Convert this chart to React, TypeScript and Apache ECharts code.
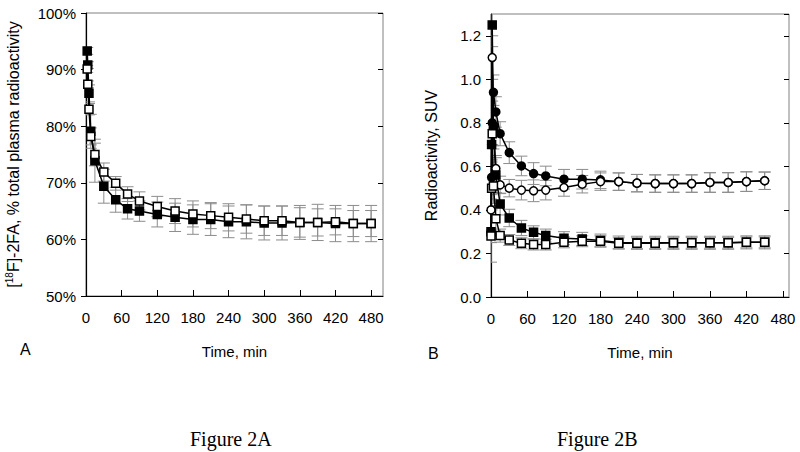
import React, { useEffect, useRef } from "react";
import * as echarts from "echarts";

// ---------- Panel A data ----------
const timeA = [2, 3, 5, 8, 15, 30, 50, 70, 90, 120, 150, 180, 210, 240, 270, 300, 330, 360, 390, 420, 450, 480];
const filledA = [93.3, 90.8, 85.8, 79.1, 73.9, 69.4, 67.0, 65.4, 65.0, 64.4, 63.9, 63.5, 63.5, 63.1, 63.1, 62.9, 62.9, 63.0, 63.0, 62.8, 62.8, 62.8];
const filledAErr = [0.6, 0.6, 1.5, 3.0, 3.8, 3.0, 2.2, 1.8, 1.8, 2.2, 2.5, 2.6, 2.8, 2.8, 3.0, 3.0, 3.0, 3.0, 3.2, 3.2, 3.2, 3.2];
const openA = [90.1, 87.4, 83.0, 78.2, 75.0, 71.9, 69.9, 68.0, 66.8, 65.8, 65.0, 64.5, 64.2, 63.9, 63.6, 63.3, 63.3, 63.0, 63.0, 63.1, 62.8, 62.8];
const openAErr = [0.6, 0.6, 1.0, 1.5, 2.0, 1.6, 1.2, 1.3, 1.6, 1.8, 2.2, 2.3, 2.3, 2.4, 2.5, 2.6, 2.6, 2.6, 2.4, 2.3, 2.3, 2.3];
const xTicksA = [0, 60, 120, 180, 240, 300, 360, 420, 480];
const yTicksA = [50, 60, 70, 80, 90, 100];

// ---------- Panel B data ----------
const timeB = [0, 1, 2, 4, 8, 15, 30, 50, 70, 90, 120, 150, 180, 210, 240, 270, 300, 330, 360, 390, 420, 450];
const filledCircleB = [0.30, 0.55, 0.80, 0.94, 0.85, 0.75, 0.663, 0.602, 0.567, 0.556, 0.541, 0.541, 0.538, 0.530, 0.523, 0.521, 0.521, 0.521, 0.526, 0.526, 0.530, 0.534];
const filledCircleBErr = [0.05, 0.08, 0.1, 0.08, 0.07, 0.055, 0.05, 0.045, 0.05, 0.045, 0.045, 0.045, 0.04, 0.04, 0.04, 0.04, 0.04, 0.04, 0.045, 0.045, 0.045, 0.04];
const openCircleB = [0.40, 0.70, 1.10, 0.775, 0.59, 0.515, 0.50, 0.491, 0.488, 0.491, 0.503, 0.518, 0.530, 0.530, 0.523, 0.521, 0.521, 0.521, 0.526, 0.526, 0.530, 0.534];
const openCircleBErr = [0.05, 0.08, 0.1, 0.08, 0.06, 0.04, 0.04, 0.045, 0.05, 0.045, 0.04, 0.04, 0.04, 0.04, 0.04, 0.04, 0.04, 0.04, 0.045, 0.045, 0.045, 0.04];
const filledSquareB = [0.30, 0.70, 1.25, 0.78, 0.56, 0.427, 0.363, 0.317, 0.297, 0.282, 0.270, 0.267, 0.259, 0.250, 0.249, 0.249, 0.249, 0.249, 0.249, 0.249, 0.251, 0.251];
const filledSquareBErr = [0.05, 0.1, 0.1, 0.1, 0.08, 0.05, 0.04, 0.035, 0.03, 0.03, 0.03, 0.03, 0.03, 0.03, 0.03, 0.03, 0.03, 0.03, 0.03, 0.03, 0.03, 0.03];
const openSquareB = [0.28, 0.50, 0.75, 0.51, 0.36, 0.282, 0.262, 0.247, 0.241, 0.241, 0.251, 0.256, 0.256, 0.247, 0.247, 0.247, 0.249, 0.249, 0.249, 0.249, 0.251, 0.251];
const openSquareBErr = [0.12, 0.1, 0.1, 0.08, 0.06, 0.03, 0.025, 0.025, 0.025, 0.025, 0.025, 0.025, 0.025, 0.025, 0.025, 0.025, 0.025, 0.025, 0.025, 0.025, 0.025, 0.025];
const xTicksB = [0, 60, 120, 180, 240, 300, 360, 420, 480];
const yTicksB = [0.0, 0.2, 0.4, 0.6, 0.8, 1.0, 1.2];

const FONT = "Liberation Sans, Arial, sans-serif";

function zip(t: number[], v: number[]) {
  return t.map((x, i) => [x, v[i]]);
}
function zip3(t: number[], v: number[], e: number[]) {
  return t.map((x, i) => [x, v[i], e[i]]);
}

function errorSeries(xi: number, yi: number, data: number[][]) {
  return {
    type: "custom",
    xAxisIndex: xi,
    yAxisIndex: yi,
    silent: true,
    z: 1,
    clip: true,
    data,
    renderItem: (params: any, api: any) => {
      const x = api.value(0);
      const y = api.value(1);
      const e = api.value(2);
      const top = api.coord([x, y + e]);
      const bot = api.coord([x, y - e]);
      const hw = 6;
      const style = { stroke: "#8c8c8c", lineWidth: 1 };
      return {
        type: "group",
        children: [
          { type: "line", shape: { x1: top[0], y1: top[1], x2: bot[0], y2: bot[1] }, style },
          { type: "line", shape: { x1: top[0] - hw, y1: top[1], x2: top[0] + hw, y2: top[1] }, style },
          { type: "line", shape: { x1: bot[0] - hw, y1: bot[1], x2: bot[0] + hw, y2: bot[1] }, style },
        ],
      };
    },
  };
}

function lineSeries(xi: number, yi: number, data: number[][], symbol: string, filled: boolean) {
  return {
    type: "line",
    xAxisIndex: xi,
    yAxisIndex: yi,
    data,
    z: 3,
    symbol,
    symbolSize: 8,
    showAllSymbol: true,
    lineStyle: { color: "#000", width: 1.5 },
    itemStyle: { color: filled ? "#000" : "#fff", borderColor: "#000", borderWidth: 1.5 },
  };
}

export default function App() {
  const ref = useRef<HTMLDivElement>(null);
  useEffect(() => {
    if (!ref.current) return;
    const chart = echarts.init(ref.current, null, { renderer: "svg" });
    const labelStyle = { color: "#000", fontFamily: FONT, fontSize: 15 };
    const xAxisBase = (gi: number, max: number) => ({
      type: "value",
      gridIndex: gi,
      min: 0,
      max,
      interval: 60,
      name: "Time, min",
      nameLocation: "middle",
      nameGap: 48,
      nameTextStyle: { color: "#000", fontFamily: FONT, fontSize: 15 },
      axisLine: { lineStyle: { color: "#000", width: 1.2 } },
      axisTick: { inside: true, length: 6, lineStyle: { color: "#000" } },
      axisLabel: { ...labelStyle, margin: 14, showMaxLabel: false },
      splitLine: { show: false },
    });
    const option: any = {
      animation: false,
      backgroundColor: "#fff",
      grid: [
        { left: 86, top: 13, width: 297, height: 283, show: true, borderColor: "#808080", borderWidth: 1 },
        { left: 491, top: 14, width: 298, height: 283, show: true, borderColor: "#808080", borderWidth: 1 },
      ],
      xAxis: [xAxisBase(0, 500), xAxisBase(1, 490)],
      yAxis: [
        {
          type: "value",
          gridIndex: 0,
          min: 50,
          max: 100,
          interval: 10,
          name: "[{sup|18}F]-2FA, % total plasma radioactivity",
          nameLocation: "middle",
          nameGap: 64,
          nameTextStyle: {
            color: "#000",
            fontFamily: FONT,
            fontSize: 16,
            rich: { sup: { fontSize: 10, verticalAlign: "top", padding: [0, 0, 8, 0], fontFamily: FONT, color: "#000" } },
          },
          axisLine: { lineStyle: { color: "#000", width: 1.2 } },
          axisTick: { length: 5, lineStyle: { color: "#000" } },
          axisLabel: { ...labelStyle, margin: 10, formatter: "{value}%" },
          splitLine: { show: false },
        },
        {
          type: "value",
          gridIndex: 1,
          min: 0,
          max: 1.3,
          interval: 0.2,
          name: "Radioactivity, SUV",
          nameLocation: "middle",
          nameGap: 52,
          nameTextStyle: { color: "#000", fontFamily: FONT, fontSize: 16 },
          axisLine: { lineStyle: { color: "#000", width: 1.2 } },
          axisTick: { length: 5, lineStyle: { color: "#000" } },
          axisLabel: { ...labelStyle, margin: 10, showMaxLabel: false, formatter: (v: number) => v.toFixed(1) },
          splitLine: { show: false },
        },
        {
          type: "value",
          gridIndex: 0,
          min: 50,
          max: 100,
          interval: 10,
          axisLine: { show: false },
          axisTick: { inside: true, length: 5, lineStyle: { color: "#000" } },
          axisLabel: { show: false },
          splitLine: { show: false },
        },
        {
          type: "value",
          gridIndex: 1,
          min: 0,
          max: 1.3,
          interval: 0.2,
          axisLine: { show: false },
          axisTick: { inside: true, length: 5, lineStyle: { color: "#000" } },
          axisLabel: { show: false },
          splitLine: { show: false },
        },
      ],
      graphic: [
        { type: "text", left: 20, top: 341, style: { text: "A", fill: "#000", font: `16px ${FONT}` } },
        { type: "text", left: 428, top: 345, style: { text: "B", fill: "#000", font: `16px ${FONT}` } },
        { type: "text", left: 190, top: 429, style: { text: "Figure 2A", fill: "#000", font: `20px "Liberation Serif", "Times New Roman", serif` } },
        { type: "text", left: 557, top: 429, style: { text: "Figure 2B", fill: "#000", font: `20px "Liberation Serif", "Times New Roman", serif` } },
      ],
      series: [
        errorSeries(0, 0, zip3(timeA, filledA, filledAErr)),
        errorSeries(0, 0, zip3(timeA, openA, openAErr)),
        errorSeries(1, 1, zip3(timeB, filledCircleB, filledCircleBErr)),
        errorSeries(1, 1, zip3(timeB, openCircleB, openCircleBErr)),
        errorSeries(1, 1, zip3(timeB, filledSquareB, filledSquareBErr)),
        errorSeries(1, 1, zip3(timeB, openSquareB, openSquareBErr)),
        lineSeries(0, 0, zip(timeA, filledA), "rect", true),
        lineSeries(0, 0, zip(timeA, openA), "rect", false),
        lineSeries(1, 1, zip(timeB, filledCircleB), "circle", true),
        lineSeries(1, 1, zip(timeB, openCircleB), "circle", false),
        lineSeries(1, 1, zip(timeB, filledSquareB), "rect", true),
        lineSeries(1, 1, zip(timeB, openSquareB), "rect", false),
      ],
    };
    chart.setOption(option);
    return () => chart.dispose();
  }, []);
  return <div ref={ref} style={{ position: "fixed", left: 0, top: 0, width: 800, height: 452 }} />;
}
